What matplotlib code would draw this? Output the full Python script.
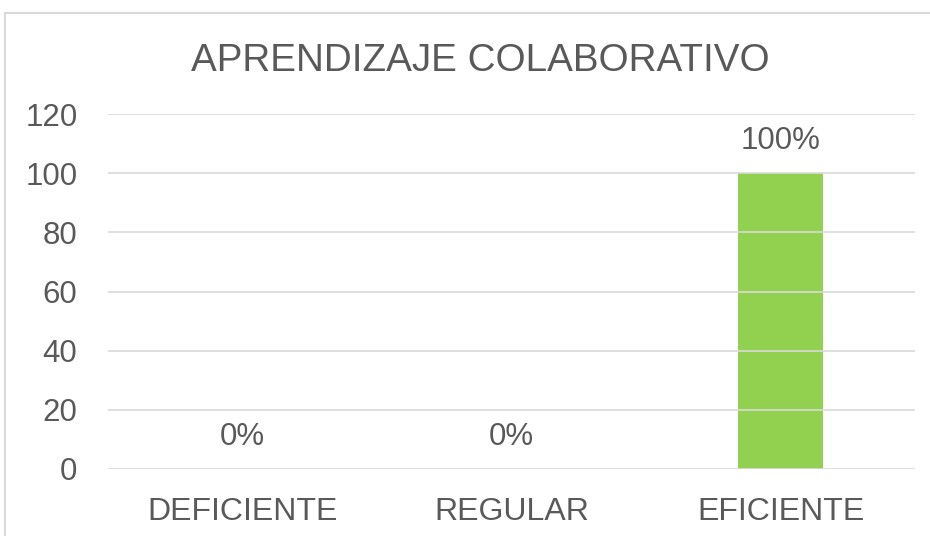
import matplotlib.pyplot as plt
from matplotlib.patches import Rectangle

categorias = ['DEFICIENTE', 'REGULAR', 'EFICIENTE']
valores = [0, 0, 100]
etiquetas = ['0%', '0%', '100%']
ticks_y = [0, 20, 40, 60, 80, 100, 120]

gris = '#595959'
plt.rcParams['font.family'] = ['Liberation Sans', 'DejaVu Sans']

fig = plt.figure(figsize=(9.3, 5.36), dpi=100)
ax = fig.add_axes([108 / 930, 1 - 469 / 536, (915 - 108) / 930, (469 - 114) / 536])

barras = ax.bar(range(len(categorias)), valores, width=0.316, color='#92d050', zorder=1)
ax.bar_label(barras, labels=etiquetas, padding=12, fontsize=22.5, color=gris)

ax.set_ylim(0, 120)
ax.set_xlim(-0.5, 2.5)
ax.set_yticks(ticks_y)
ax.yaxis.grid(True, color='#d9d9d9', linewidth=1.2, zorder=2)
ax.set_axisbelow(False)
for b in barras:
    b.set_zorder(1)
ax.set_xticks(range(len(categorias)))
ax.set_xticklabels(categorias)
ax.tick_params(axis='y', length=0, pad=22, labelsize=22.5, labelcolor=gris)
ax.tick_params(axis='x', length=0, pad=20, labelsize=23, labelcolor=gris)
for s in ax.spines.values():
    s.set_visible(False)

fig.text(480 / 930, 1 - 61 / 536, 'APRENDIZAJE COLABORATIVO', ha='center', va='center',
         fontsize=27.8, color=gris)

fig.patches.append(Rectangle((5 / 930, -0.05), 1.0, 1 - 13 / 536 + 0.05,
                             transform=fig.transFigure, fill=False,
                             edgecolor='#d9d9d9', linewidth=1.5))

plt.savefig('out.png', dpi=100)
